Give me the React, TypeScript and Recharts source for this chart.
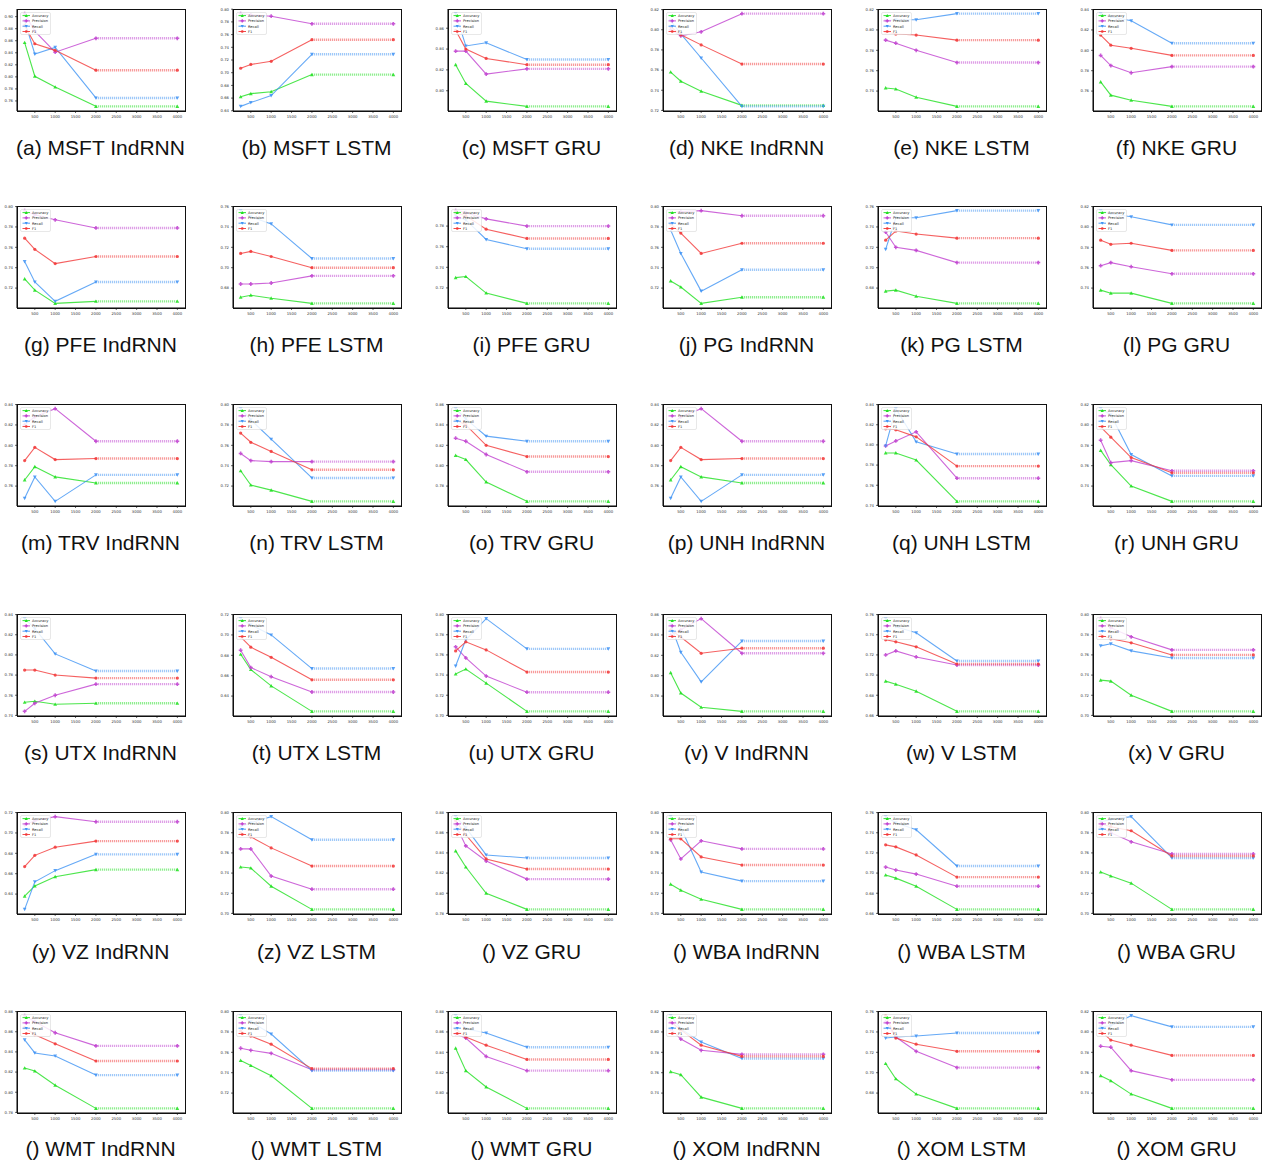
import React from 'react';
import { LineChart, Line, XAxis, YAxis } from 'recharts';

// window sizes the models were evaluated at
const windowSizes = [250, 500, 1000, 2000, 4000];
const xTicks = [500, 1000, 1500, 2000, 2500, 3000, 3500, 4000];

const seriesNames = ['Accuracy', 'Precision', 'Recall', 'F1'];
const seriesColors = ['#1fe01f', '#c040cf', '#3f93f4', '#f23838'];
const seriesKeys = ['acc', 'prec', 'rec', 'f1'];

// each panel: [accuracy, precision, recall, f1], one value per window size
const msftIndRNN = [[0.857, 0.801, 0.783, 0.751, 0.751], [0.905, 0.876, 0.841, 0.864, 0.864], [0.893, 0.838, 0.849, 0.765, 0.765], [0.885, 0.855, 0.844, 0.811, 0.811]];
const msftLSTM = [[0.662, 0.667, 0.670, 0.697, 0.697], [0.793, 0.791, 0.789, 0.777, 0.777], [0.647, 0.653, 0.664, 0.729, 0.729], [0.707, 0.713, 0.718, 0.752, 0.752]];
const msftGRU = [[0.825, 0.807, 0.790, 0.785, 0.785], [0.838, 0.838, 0.816, 0.821, 0.821], [0.874, 0.843, 0.846, 0.830, 0.830], [0.858, 0.840, 0.831, 0.825, 0.825]];
const nkeIndRNN = [[0.758, 0.749, 0.739, 0.725, 0.725], [0.800, 0.794, 0.798, 0.816, 0.816], [0.809, 0.796, 0.772, 0.724, 0.724], [0.803, 0.795, 0.785, 0.766, 0.766]];
const nkeLSTM = [[0.743, 0.742, 0.734, 0.725, 0.725], [0.790, 0.787, 0.780, 0.768, 0.768], [0.809, 0.810, 0.810, 0.816, 0.816], [0.798, 0.796, 0.795, 0.790, 0.790]];
const nkeGRU = [[0.769, 0.756, 0.751, 0.745, 0.745], [0.795, 0.785, 0.778, 0.784, 0.784], [0.836, 0.833, 0.829, 0.807, 0.807], [0.815, 0.805, 0.802, 0.795, 0.795]];

const pfeIndRNN = [[0.729, 0.718, 0.705, 0.707, 0.707], [0.796, 0.792, 0.787, 0.779, 0.779], [0.746, 0.726, 0.707, 0.726, 0.726], [0.769, 0.758, 0.744, 0.751, 0.751]];
const pfeLSTM = [[0.671, 0.673, 0.670, 0.665, 0.665], [0.684, 0.684, 0.685, 0.692, 0.692], [0.756, 0.750, 0.743, 0.709, 0.709], [0.714, 0.716, 0.711, 0.700, 0.700]];
const pfeGRU = [[0.730, 0.731, 0.715, 0.705, 0.705], [0.795, 0.793, 0.787, 0.780, 0.780], [0.790, 0.786, 0.767, 0.758, 0.758], [0.793, 0.790, 0.777, 0.768, 0.768]];
const pgIndRNN = [[0.727, 0.721, 0.705, 0.711, 0.711], [0.794, 0.795, 0.796, 0.791, 0.791], [0.777, 0.754, 0.717, 0.738, 0.738], [0.783, 0.774, 0.754, 0.764, 0.764]];
const pgLSTM = [[0.677, 0.678, 0.672, 0.665, 0.665], [0.735, 0.720, 0.717, 0.705, 0.705], [0.718, 0.749, 0.749, 0.756, 0.756], [0.727, 0.736, 0.733, 0.729, 0.729]];
const pgGRU = [[0.738, 0.735, 0.735, 0.725, 0.725], [0.762, 0.765, 0.761, 0.754, 0.754], [0.816, 0.813, 0.810, 0.802, 0.802], [0.787, 0.783, 0.784, 0.777, 0.777]];

const trvIndRNN = [[0.766, 0.779, 0.769, 0.763, 0.763], [0.820, 0.828, 0.836, 0.804, 0.804], [0.748, 0.769, 0.745, 0.771, 0.771], [0.785, 0.798, 0.786, 0.787, 0.787]];
const trvLSTM = [[0.735, 0.721, 0.716, 0.705, 0.705], [0.752, 0.745, 0.744, 0.744, 0.744], [0.796, 0.785, 0.766, 0.728, 0.728], [0.772, 0.763, 0.754, 0.736, 0.736]];
const trvGRU = [[0.810, 0.806, 0.784, 0.765, 0.765], [0.827, 0.824, 0.811, 0.794, 0.794], [0.856, 0.846, 0.829, 0.824, 0.824], [0.845, 0.840, 0.820, 0.809, 0.809]];
const unhIndRNN = [[0.766, 0.779, 0.769, 0.763, 0.763], [0.820, 0.828, 0.836, 0.804, 0.804], [0.748, 0.769, 0.745, 0.771, 0.771], [0.785, 0.798, 0.786, 0.787, 0.787]];
const unhLSTM = [[0.792, 0.792, 0.785, 0.744, 0.744], [0.799, 0.804, 0.813, 0.767, 0.767], [0.799, 0.836, 0.803, 0.791, 0.791], [0.816, 0.815, 0.808, 0.779, 0.779]];
const unhGRU = [[0.775, 0.761, 0.740, 0.725, 0.725], [0.785, 0.763, 0.765, 0.755, 0.755], [0.816, 0.810, 0.771, 0.750, 0.750], [0.798, 0.788, 0.768, 0.753, 0.753]];

const utxIndRNN = [[0.753, 0.754, 0.751, 0.752, 0.752], [0.744, 0.752, 0.760, 0.771, 0.771], [0.836, 0.826, 0.801, 0.784, 0.784], [0.785, 0.785, 0.780, 0.777, 0.777]];
const utxLSTM = [[0.681, 0.666, 0.650, 0.625, 0.625], [0.685, 0.668, 0.659, 0.644, 0.644], [0.716, 0.710, 0.700, 0.667, 0.667], [0.698, 0.688, 0.678, 0.656, 0.656]];
const utxGRU = [[0.741, 0.746, 0.732, 0.704, 0.704], [0.768, 0.757, 0.739, 0.723, 0.723], [0.749, 0.775, 0.796, 0.766, 0.766], [0.764, 0.773, 0.765, 0.743, 0.743]];
const vIndRNN = [[0.803, 0.783, 0.769, 0.765, 0.765], [0.840, 0.845, 0.856, 0.822, 0.822], [0.850, 0.823, 0.794, 0.834, 0.834], [0.845, 0.838, 0.822, 0.827, 0.827]];
const vLSTM = [[0.694, 0.691, 0.684, 0.664, 0.664], [0.720, 0.724, 0.718, 0.710, 0.710], [0.756, 0.748, 0.742, 0.714, 0.714], [0.735, 0.733, 0.728, 0.711, 0.711]];
const vGRU = [[0.735, 0.734, 0.720, 0.704, 0.704], [0.796, 0.787, 0.778, 0.765, 0.765], [0.769, 0.771, 0.764, 0.757, 0.757], [0.780, 0.776, 0.772, 0.760, 0.760]];

const vzIndRNN = [[0.638, 0.648, 0.657, 0.664, 0.664], [0.708, 0.712, 0.716, 0.711, 0.711], [0.625, 0.652, 0.663, 0.679, 0.679], [0.667, 0.678, 0.686, 0.692, 0.692]];
const vzLSTM = [[0.746, 0.745, 0.727, 0.704, 0.704], [0.764, 0.764, 0.737, 0.724, 0.724], [0.786, 0.790, 0.796, 0.773, 0.773], [0.780, 0.776, 0.765, 0.747, 0.747]];
const vzGRU = [[0.842, 0.826, 0.800, 0.784, 0.784], [0.868, 0.847, 0.832, 0.814, 0.814], [0.876, 0.865, 0.838, 0.835, 0.835], [0.872, 0.858, 0.834, 0.824, 0.824]];
const wbaIndRNN = [[0.729, 0.723, 0.714, 0.704, 0.704], [0.773, 0.754, 0.772, 0.764, 0.764], [0.796, 0.785, 0.741, 0.732, 0.732], [0.774, 0.774, 0.756, 0.748, 0.748]];
const wbaLSTM = [[0.698, 0.695, 0.687, 0.664, 0.664], [0.706, 0.703, 0.699, 0.687, 0.687], [0.756, 0.750, 0.743, 0.707, 0.707], [0.728, 0.726, 0.718, 0.696, 0.696]];
const wbaGRU = [[0.741, 0.737, 0.730, 0.704, 0.704], [0.786, 0.780, 0.771, 0.759, 0.759], [0.791, 0.793, 0.796, 0.755, 0.755], [0.789, 0.786, 0.782, 0.757, 0.757]];

const wmtIndRNN = [[0.824, 0.821, 0.807, 0.784, 0.784], [0.876, 0.870, 0.859, 0.846, 0.846], [0.852, 0.839, 0.836, 0.817, 0.817], [0.864, 0.857, 0.848, 0.831, 0.831]];
const wmtLSTM = [[0.752, 0.747, 0.737, 0.705, 0.705], [0.764, 0.762, 0.759, 0.743, 0.743], [0.796, 0.790, 0.778, 0.742, 0.742], [0.781, 0.776, 0.768, 0.744, 0.744]];
const wmtGRU = [[0.844, 0.822, 0.806, 0.785, 0.785], [0.858, 0.854, 0.836, 0.822, 0.822], [0.876, 0.863, 0.859, 0.845, 0.845], [0.863, 0.855, 0.847, 0.833, 0.833]];
const xomIndRNN = [[0.761, 0.758, 0.736, 0.725, 0.725], [0.803, 0.793, 0.782, 0.778, 0.778], [0.816, 0.803, 0.790, 0.774, 0.774], [0.810, 0.802, 0.787, 0.776, 0.776]];
const xomLSTM = [[0.709, 0.694, 0.679, 0.665, 0.665], [0.750, 0.735, 0.721, 0.705, 0.705], [0.734, 0.735, 0.736, 0.739, 0.739], [0.756, 0.734, 0.728, 0.721, 0.721]];
const xomGRU = [[0.757, 0.752, 0.739, 0.725, 0.725], [0.786, 0.785, 0.762, 0.753, 0.753], [0.805, 0.806, 0.816, 0.805, 0.805], [0.801, 0.792, 0.787, 0.777, 0.777]];

const panels = [
  msftIndRNN, msftLSTM, msftGRU, nkeIndRNN, nkeLSTM, nkeGRU,
  pfeIndRNN, pfeLSTM, pfeGRU, pgIndRNN, pgLSTM, pgGRU,
  trvIndRNN, trvLSTM, trvGRU, unhIndRNN, unhLSTM, unhGRU,
  utxIndRNN, utxLSTM, utxGRU, vIndRNN, vLSTM, vGRU,
  vzIndRNN, vzLSTM, vzGRU, wbaIndRNN, wbaLSTM, wbaGRU,
  wmtIndRNN, wmtLSTM, wmtGRU, xomIndRNN, xomLSTM, xomGRU,
];

const captions = [
  '(a) MSFT IndRNN', '(b) MSFT LSTM', '(c) MSFT GRU', '(d) NKE IndRNN', '(e) NKE LSTM', '(f) NKE GRU',
  '(g) PFE IndRNN', '(h) PFE LSTM', '(i) PFE GRU', '(j) PG IndRNN', '(k) PG LSTM', '(l) PG GRU',
  '(m) TRV IndRNN', '(n) TRV LSTM', '(o) TRV GRU', '(p) UNH IndRNN', '(q) UNH LSTM', '(r) UNH GRU',
  '(s) UTX IndRNN', '(t) UTX LSTM', '(u) UTX GRU', '(v) V IndRNN', '(w) V LSTM', '(x) V GRU',
  '(y) VZ IndRNN', '(z) VZ LSTM', '() VZ GRU', '() WBA IndRNN', '() WBA LSTM', '() WBA GRU',
  '() WMT IndRNN', '() WMT LSTM', '() WMT GRU', '() XOM IndRNN', '() XOM LSTM', '() XOM GRU',
];

// layout of the 6x6 grid
const colLefts = [17, 233, 448, 663, 878, 1093];
const rowTops = [9, 206, 404, 614, 812, 1011];
const captionCenters = [148, 345, 543, 753, 952, 1149];
const PLOT_W = 167;
const PLOT_H = 102;
const Y_AXIS_W = 15;
const X_AXIS_H = 9;
const TOP_M = 1;

function Marker({ kind, cx, cy, color, s = 2 }: any) {
  if (cx == null || cy == null) return null;
  if (kind === 0) {
    return <polygon points={`${cx},${cy - s} ${cx - s},${cy + s * 0.8} ${cx + s},${cy + s * 0.8}`} fill={color} />;
  }
  if (kind === 1) {
    const t = s * 0.4;
    const d = `M${cx - t},${cy - s}H${cx + t}V${cy - t}H${cx + s}V${cy + t}H${cx + t}V${cy + s}H${cx - t}V${cy + t}H${cx - s}V${cy - t}H${cx - t}Z`;
    return <path d={d} fill={color} />;
  }
  if (kind === 2) {
    return <polygon points={`${cx},${cy + s} ${cx - s},${cy - s * 0.8} ${cx + s},${cy - s * 0.8}`} fill={color} />;
  }
  return <circle cx={cx} cy={cy} r={s * 0.85} fill={color} />;
}

function PanelLegend() {
  return (
    <svg width={31} height={23} style={{ position: 'absolute', left: Y_AXIS_W + 3, top: TOP_M + 2.5 }}>
      <rect x={0.5} y={0.5} width={30} height={22} rx={1.5} fill='rgba(255,255,255,0.85)' stroke='#d0d0d0' strokeWidth={0.5} />
      {seriesNames.map((name, i) => {
        const y = 3.6 + i * 5.3;
        return (
          <g key={name}>
            <line x1={2.5} x2={10} y1={y} y2={y} stroke={seriesColors[i]} strokeWidth={0.9} />
            <Marker kind={i} cx={6.25} cy={y} color={seriesColors[i]} s={1.6} />
            <text x={12} y={y + 1.3} fontSize={3.6} fill='#222' fontFamily='DejaVu Sans'>
              {name}
            </text>
          </g>
        );
      })}
    </svg>
  );
}

function Panel({ values, caption, col, row }: any) {
  const all = values.flat();
  const lo = Math.min(...all);
  const hi = Math.max(...all);
  const pad = (hi - lo) * 0.05;
  const domain = [lo - pad, hi + pad];
  const yTicks: number[] = [];
  for (let t = Math.ceil(domain[0] / 0.02 - 1e-9) * 0.02; t <= domain[1] + 1e-9; t += 0.02) {
    yTicks.push(+t.toFixed(2));
  }

  const rows = windowSizes.map((x, i) => {
    const r: any = { x };
    seriesKeys.forEach((k, s) => {
      r[k] = i <= 3 ? values[s][i] : null;
      r[k + 'Tail'] = i >= 3 ? values[s][i] : null;
    });
    return r;
  });

  const left = colLefts[col];
  const top = rowTops[row];
  const tickStyle = { fontSize: 3.8, fill: '#333', fontFamily: 'DejaVu Sans' };

  return (
    <>
      <div style={{ position: 'absolute', left: left - Y_AXIS_W, top: top - TOP_M, width: PLOT_W + Y_AXIS_W + 2, height: PLOT_H + TOP_M + X_AXIS_H }}>
        <LineChart
          width={PLOT_W + Y_AXIS_W + 2}
          height={PLOT_H + TOP_M + X_AXIS_H}
          data={rows}
          margin={{ top: TOP_M, right: 1, bottom: 0, left: 0 }}
        >
          <XAxis
            dataKey='x'
            type='number'
            domain={[62.5, 4187.5]}
            ticks={xTicks}
            height={X_AXIS_H}
            tick={tickStyle}
            tickSize={2}
            tickLine={{ stroke: '#000', strokeWidth: 0.6 }}
            axisLine={{ stroke: '#000', strokeWidth: 1 }}
            interval={0}
            allowDataOverflow
          />
          <YAxis
            type='number'
            domain={domain}
            ticks={yTicks}
            width={Y_AXIS_W}
            tick={tickStyle}
            tickSize={2}
            tickLine={{ stroke: '#000', strokeWidth: 0.6 }}
            axisLine={{ stroke: '#000', strokeWidth: 1 }}
            tickFormatter={(v: number) => v.toFixed(2)}
            interval={0}
            allowDataOverflow
          />
          {seriesKeys.map((k, s) => (
            <Line
              key={k}
              dataKey={k}
              stroke={seriesColors[s]}
              strokeOpacity={0.8}
              strokeWidth={1.1}
              connectNulls={false}
              isAnimationActive={false}
              dot={(p: any) => (
                <g key={`${k}-${p.index}`} opacity={0.85}>
                  <Marker kind={s} cx={p.cx} cy={p.cy} color={seriesColors[s]} s={1.9} />
                </g>
              )}
              activeDot={false}
            />
          ))}
          {seriesKeys.map((k, s) => (
            <Line
              key={k + 'Tail'}
              dataKey={k + 'Tail'}
              stroke={seriesColors[s]}
              strokeOpacity={0.5}
              strokeWidth={2.4}
              strokeDasharray='1.2 0.8'
              connectNulls={false}
              isAnimationActive={false}
              dot={(p: any) =>
                p.index === 4 ? (
                  <g key={`${k}t-${p.index}`} opacity={0.85}>
                    <Marker kind={s} cx={p.cx} cy={p.cy} color={seriesColors[s]} s={1.9} />
                  </g>
                ) : (
                  <g key={`${k}t-${p.index}`} />
                )
              }
              activeDot={false}
            />
          ))}
        </LineChart>
        {/* axes frame */}
        <div
          style={{
            position: 'absolute',
            left: Y_AXIS_W - 0.5,
            top: TOP_M - 0.5,
            width: PLOT_W + 2,
            height: PLOT_H + 1,
            border: '1px solid #111',
            boxSizing: 'border-box',
            pointerEvents: 'none',
          }}
        />
        <PanelLegend />
      </div>
      <div
        style={{
          position: 'absolute',
          left: left + PLOT_W / 2 - 105,
          width: 210,
          top: captionCenters[row] - 13,
          height: 26,
          lineHeight: '26px',
          textAlign: 'center',
          fontFamily: 'Liberation Sans',
          fontSize: 21,
          color: '#111',
          whiteSpace: 'nowrap',
        }}
      >
        {caption}
      </div>
    </>
  );
}

export default function App() {
  return (
    <div style={{ position: 'absolute', left: 0, top: 0, width: 1265, height: 1165, background: '#fff', overflow: 'hidden' }}>
      {panels.map((values, i) => (
        <Panel key={captions[i]} values={values} caption={captions[i]} col={i % 6} row={Math.floor(i / 6)} />
      ))}
    </div>
  );
}
